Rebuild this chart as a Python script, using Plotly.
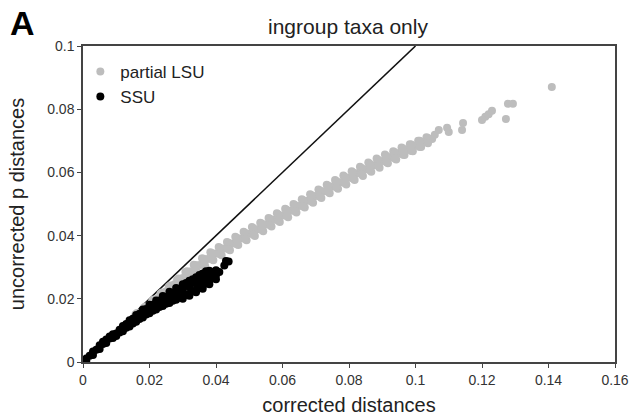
import plotly.graph_objects as go

# ---- data ----
lsu_x = [0.0150, 0.0158, 0.0142, 0.0175, 0.0183, 0.0167, 0.0200, 0.0208, 0.0192,
         0.0225, 0.0233, 0.0217, 0.0250, 0.0258, 0.0242, 0.0275, 0.0283, 0.0267,
         0.0300, 0.0308, 0.0292, 0.0325, 0.0333, 0.0317, 0.0350, 0.0358, 0.0342,
         0.0375, 0.0383, 0.0367, 0.0400, 0.0408, 0.0392, 0.0425, 0.0433, 0.0417,
         0.0450, 0.0458, 0.0442, 0.0475, 0.0483, 0.0467, 0.0500, 0.0508, 0.0492,
         0.0525, 0.0533, 0.0517, 0.0550, 0.0558, 0.0542, 0.0575, 0.0583, 0.0567,
         0.0600, 0.0608, 0.0592, 0.0625, 0.0633, 0.0617, 0.0650, 0.0658, 0.0642,
         0.0675, 0.0683, 0.0667, 0.0700, 0.0708, 0.0692, 0.0725, 0.0733, 0.0717,
         0.0750, 0.0758, 0.0742, 0.0775, 0.0783, 0.0767, 0.0800, 0.0808, 0.0792,
         0.0825, 0.0833, 0.0817, 0.0850, 0.0858, 0.0842, 0.0875, 0.0883, 0.0867,
         0.0900, 0.0908, 0.0892, 0.0925, 0.0933, 0.0917, 0.0950, 0.0958, 0.0942,
         0.0975, 0.0983, 0.0967, 0.1000, 0.1008, 0.0992, 0.1025, 0.1033, 0.1017,
         0.1050, 0.1058,
         0.01625, 0.01625, 0.01875, 0.01875, 0.02125, 0.02125, 0.02375, 0.02375,
         0.02625, 0.02625, 0.02875, 0.02875, 0.03125, 0.03125, 0.03375, 0.03375,
         0.03625, 0.03625, 0.03875, 0.03875, 0.04125, 0.04125, 0.04375, 0.04375,
         0.04625, 0.04625, 0.04875, 0.04875, 0.05125, 0.05125, 0.05375, 0.05375,
         0.05625, 0.05625, 0.05875, 0.05875, 0.06125, 0.06125, 0.06375, 0.06375,
         0.06625, 0.06625, 0.06875, 0.06875, 0.07125, 0.07125, 0.07375, 0.07375,
         0.07625, 0.07625, 0.07875, 0.07875, 0.08125, 0.08125, 0.08375, 0.08375,
         0.08625, 0.08625, 0.08875, 0.08875, 0.09125, 0.09125, 0.09375, 0.09375,
         0.09625, 0.09625, 0.09875, 0.09875, 0.10125, 0.10125, 0.10375, 0.10375,
         0.1070, 0.1100, 0.1095, 0.1140, 0.1143, 0.1200, 0.1210, 0.1220, 0.1230,
         0.1272, 0.1278, 0.1293, 0.1410]
lsu_y = [0.0137, 0.0151, 0.0123, 0.0158, 0.0172, 0.0144, 0.0180, 0.0194, 0.0166,
         0.0202, 0.0216, 0.0188, 0.0224, 0.0238, 0.0210, 0.0246, 0.0260, 0.0232,
         0.0266, 0.0285, 0.0247, 0.0287, 0.0308, 0.0266, 0.0307, 0.0328, 0.0286,
         0.0326, 0.0347, 0.0305, 0.0343, 0.0364, 0.0322, 0.0359, 0.0380, 0.0338,
         0.0375, 0.0396, 0.0354, 0.0391, 0.0412, 0.0370, 0.0406, 0.0427, 0.0385,
         0.0420, 0.0441, 0.0399, 0.0435, 0.0456, 0.0414, 0.0450, 0.0471, 0.0429,
         0.0464, 0.0485, 0.0443, 0.0479, 0.0500, 0.0458, 0.0494, 0.0515, 0.0473,
         0.0510, 0.0531, 0.0489, 0.0525, 0.0546, 0.0504, 0.0540, 0.0561, 0.0519,
         0.0555, 0.0576, 0.0534, 0.0569, 0.0590, 0.0548, 0.0583, 0.0604, 0.0562,
         0.0597, 0.0618, 0.0576, 0.0610, 0.0631, 0.0589, 0.0623, 0.0644, 0.0602,
         0.0636, 0.0657, 0.0615, 0.0648, 0.0667, 0.0629, 0.0660, 0.0679, 0.0641,
         0.0672, 0.0689, 0.0655, 0.0684, 0.0700, 0.0667, 0.0695, 0.0711, 0.0680,
         0.0706, 0.0719,
         0.0155, 0.0141, 0.0176, 0.0162, 0.0198, 0.0184, 0.0220, 0.0206,
         0.0242, 0.0228, 0.0264, 0.0248, 0.0287, 0.0267, 0.0307, 0.0287,
         0.0327, 0.0307, 0.0345, 0.0325, 0.0361, 0.0341, 0.0377, 0.0357,
         0.0393, 0.0373, 0.0409, 0.0389, 0.0423, 0.0403, 0.0438, 0.0418,
         0.0453, 0.0433, 0.0467, 0.0447, 0.0482, 0.0462, 0.0497, 0.0477,
         0.0512, 0.0492, 0.0528, 0.0508, 0.0543, 0.0523, 0.0558, 0.0538,
         0.0572, 0.0552, 0.0586, 0.0566, 0.0600, 0.0580, 0.0614, 0.0594,
         0.0627, 0.0607, 0.0640, 0.0620, 0.0652, 0.0632, 0.0664, 0.0644,
         0.0676, 0.0656, 0.0688, 0.0668, 0.0700, 0.0680, 0.0709, 0.0692,
         0.0734, 0.0728, 0.0741, 0.0734, 0.0756, 0.0766, 0.0776, 0.0784, 0.0795,
         0.0769, 0.0817, 0.0817, 0.0870]

ssu_x = [0.000, 0.001, 0.001, 0.002, 0.003, 0.003, 0.004, 0.005, 0.005, 0.006,
         0.006, 0.007, 0.007, 0.008, 0.008, 0.009, 0.009, 0.010, 0.010, 0.011,
         0.011, 0.012, 0.012, 0.012, 0.013, 0.013, 0.014, 0.014, 0.014, 0.015,
         0.015, 0.016, 0.016, 0.016, 0.017, 0.017, 0.018, 0.018, 0.018, 0.019,
         0.019, 0.020, 0.020, 0.020, 0.021, 0.021, 0.022, 0.022, 0.022, 0.023,
         0.023, 0.024, 0.024, 0.024, 0.025, 0.025, 0.026, 0.026, 0.026, 0.027,
         0.027, 0.028, 0.028, 0.028, 0.029, 0.029, 0.030, 0.030, 0.030, 0.031,
         0.031, 0.032, 0.032, 0.032, 0.033, 0.033, 0.034, 0.034, 0.034, 0.035,
         0.035, 0.036, 0.036, 0.036, 0.037, 0.037, 0.038, 0.038, 0.038, 0.039,
         0.040, 0.041, 0.0425, 0.0430, 0.0438,
         0.031, 0.033, 0.035, 0.037, 0.030, 0.032, 0.034, 0.036, 0.038, 0.040,
         0.039, 0.040]
ssu_y = [0.0000, 0.0011, 0.0005, 0.0020, 0.0033, 0.0022, 0.0039, 0.0053, 0.0041, 0.0057,
         0.0064, 0.0060, 0.0071, 0.0074, 0.0081, 0.0076, 0.0088, 0.0090, 0.0082, 0.0102,
         0.0093, 0.0106, 0.0114, 0.0097, 0.0120, 0.0108, 0.0122, 0.0132, 0.0112, 0.0137,
         0.0122, 0.0138, 0.0149, 0.0127, 0.0153, 0.0136, 0.0154, 0.0166, 0.0141, 0.0168,
         0.0150, 0.0168, 0.0181, 0.0154, 0.0181, 0.0162, 0.0181, 0.0195, 0.0166, 0.0195,
         0.0174, 0.0193, 0.0209, 0.0177, 0.0206, 0.0184, 0.0204, 0.0222, 0.0187, 0.0218,
         0.0194, 0.0215, 0.0234, 0.0197, 0.0228, 0.0204, 0.0226, 0.0246, 0.0206, 0.0241,
         0.0213, 0.0237, 0.0257, 0.0216, 0.0252, 0.0224, 0.0248, 0.0268, 0.0227, 0.0262,
         0.0235, 0.0259, 0.0280, 0.0240, 0.0274, 0.0249, 0.0270, 0.0289, 0.0256, 0.0284,
         0.0290, 0.0285, 0.0305, 0.0320, 0.0318,
         0.0250, 0.0262, 0.0275, 0.0287, 0.0200, 0.0210, 0.0221, 0.0232, 0.0246, 0.0262,
         0.0270, 0.0275]

line_x = [0.0, 0.1]
line_y = [0.0, 0.1]

x_ticks = [0, 0.02, 0.04, 0.06, 0.08, 0.1, 0.12, 0.14, 0.16]
x_labels = ["0", "0.02", "0.04", "0.06", "0.08", "0.1", "0.12", "0.14", "0.16"]
y_ticks = [0, 0.02, 0.04, 0.06, 0.08, 0.1]
y_labels = ["0", "0.02", "0.04", "0.06", "0.08", "0.1"]

FONT = "Liberation Sans, Arial, Helvetica, sans-serif"

fig = go.Figure()
fig.add_trace(go.Scatter(x=line_x, y=line_y, mode="lines",
                         line=dict(color="#111111", width=1.6),
                         showlegend=False, hoverinfo="skip"))
fig.add_trace(go.Scatter(x=lsu_x, y=lsu_y, mode="markers", name="partial LSU",
                         marker=dict(color="#bdbdbd", size=8, line=dict(width=0))))
fig.add_trace(go.Scatter(x=ssu_x, y=ssu_y, mode="markers", name="SSU",
                         marker=dict(color="#000000", size=8, line=dict(width=0))))

axis_common = dict(showgrid=False, zeroline=False, showline=True, mirror=True,
                   automargin=False,
                   linecolor="#444444", linewidth=1.5, ticks="outside",
                   ticklen=4, tickwidth=1.2, tickcolor="#444444",
                   tickfont=dict(family=FONT, size=14, color="#333333"))

fig.update_xaxes(range=[0, 0.16], tickvals=x_ticks, ticktext=x_labels,
                 title=dict(text="corrected distances", standoff=11,
                            font=dict(family=FONT, size=20, color="#222222")),
                 **axis_common)
fig.update_yaxes(range=[0, 0.1], tickvals=y_ticks, ticktext=y_labels,
                 title=dict(text="uncorrected p distances", standoff=17,
                            font=dict(family=FONT, size=20, color="#222222")),
                 **axis_common)

fig.update_layout(
    width=630, height=418,
    margin=dict(l=83, r=15, t=46, b=56),
    paper_bgcolor="white", plot_bgcolor="white",
    font=dict(family=FONT, color="#222222"),
    showlegend=True,
    legend=dict(x=-0.005, y=0.975, xanchor="left", yanchor="top",
                bgcolor="rgba(0,0,0,0)", tracegroupgap=0,
                font=dict(family=FONT, size=17, color="#222222")),
    annotations=[
        dict(text="ingroup taxa only", xref="paper", yref="paper",
             x=(348 - 83) / 532, y=1, yanchor="bottom", xanchor="center",
             yshift=6, showarrow=False,
             font=dict(family=FONT, size=21, color="#222222")),
        dict(text="<b>A</b>", xref="paper", yref="paper",
             x=(8 - 83) / 532, y=1 + (46 - 2) / 316, xanchor="left", yanchor="top",
             showarrow=False,
             font=dict(family=FONT, size=34, color="#000000")),
    ],
)

fig.write_html("out.html")
